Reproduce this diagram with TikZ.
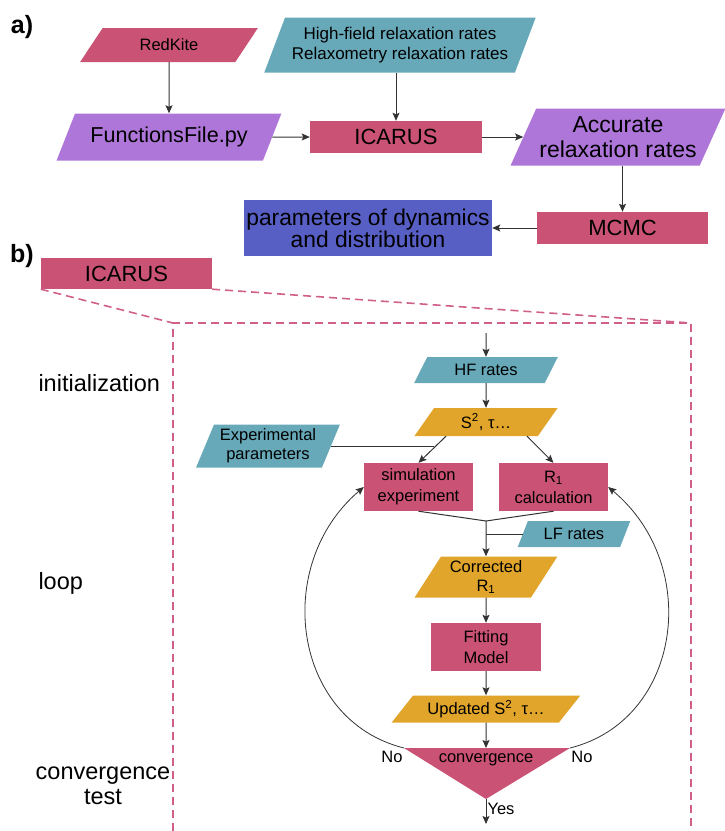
\documentclass[tikz,border=0pt]{standalone}
\usepackage{fontspec}
\setmainfont{Liberation Sans}
\usetikzlibrary{shapes.geometric,arrows.meta,calc}
\definecolor{pinkc}{HTML}{CA5275}
\definecolor{tealc}{HTML}{67A9B9}
\definecolor{purplec}{HTML}{AF76DA}
\definecolor{bluec}{HTML}{575EC4}
\definecolor{goldc}{HTML}{E1A52B}
\definecolor{dashc}{HTML}{D0608A}
\definecolor{linec}{HTML}{333333}
\begin{document}
\begin{tikzpicture}[x=1pt,y=-1pt,
  para/.style={trapezium, trapezium stretches=true, inner sep=0pt, align=center, draw=none},
  rbox/.style={rectangle, inner sep=0pt, align=center, draw=none},
  fsm/.style={font=\fontsize{16.5}{19}\selectfont},
  fbig/.style={font=\fontsize{22}{24}\selectfont},
  lab/.style={font=\fontsize{23.5}{25}\selectfont},
  arr/.style={draw=linec, line width=1pt, -{Stealth[length=8pt,width=7pt,inset=1.5pt]}},
  plain/.style={draw=linec, line width=1pt},
  dashl/.style={draw=dashc, line width=1.6pt, dash pattern=on 8pt off 5pt}
]
\useasboundingbox (0,0) rectangle (725,831);

% ---------- part a ----------
\node[font=\bfseries\fontsize{25}{25}\selectfont] (la) at (22,27) {a)};
\node[para, fill=pinkc, trapezium left angle=50.5, trapezium right angle=129.5,
      minimum width=178pt, minimum height=34pt, fsm] (redkite) at (169,45) {RedKite};
\node[para, fill=tealc, trapezium left angle=61.4, trapezium right angle=118.6,
      minimum width=272pt, minimum height=55pt, font=\fontsize{17}{20}\selectfont] (hf) at (400,45)
      {High-field relaxation rates\\Relaxometry relaxation rates};
\node[para, fill=purplec, trapezium left angle=52.5, trapezium right angle=127.5,
      minimum width=225pt, minimum height=47pt, font=\fontsize{21.6}{24}\selectfont] (ff) at (169,137)
      {FunctionsFile.py};
\node[rbox, fill=pinkc, minimum width=172pt, minimum height=32pt, fbig] (icarus) at (396,137) {ICARUS};
\node[para, fill=purplec, trapezium left angle=59, trapezium right angle=121,
      minimum width=215pt, minimum height=57pt, font=\fontsize{23}{25}\selectfont] (acc) at (618,137)
      {Accurate\\relaxation rates};
\node[rbox, fill=pinkc, minimum width=171pt, minimum height=32pt, fbig] (mcmc) at (622.5,228) {MCMC};
\node[rbox, fill=bluec, minimum width=248pt, minimum height=56pt, font=\fontsize{22.8}{20}\selectfont] (params) at (368,228)
      {parameters of dynamics\\and distribution};

\draw[arr] (redkite.south) -- (ff.north);
\draw[arr] (hf.south -| icarus.north) -- (icarus.north);
\draw[arr] (ff.east) -- (icarus.west);
\draw[arr] (icarus.east) -- (icarus.east -| acc.west);
\draw[arr] (acc.south -| mcmc.north) -- (mcmc.north);
\draw[arr] (mcmc.west) -- (params.east);

% ---------- part b ----------
\node[font=\bfseries\fontsize{25}{25}\selectfont] (lb) at (22,256) {b)};
\node[rbox, fill=pinkc, minimum width=171pt, minimum height=31pt, fbig] (icarus2) at (126.5,273.5) {ICARUS};
\coordinate (dtl) at (173,323);
\coordinate (dtr) at (691,323);
\coordinate (dbl) at (173,831);
\coordinate (dbr) at (691,831);
\draw[dashl] (icarus2.south west) -- (dtl);
\draw[dashl] (icarus2.south east) -- (dtr);
\draw[dashl] (dbl) -- (dtl) -- (dtr) -- (dbr);

\node[lab, anchor=west] (init) at (35,383) {initialization};
\node[lab, anchor=west] (loop) at (35,583) {loop};
\node[lab, align=center] (ctest) at (103,786) {convergence\\test};

\coordinate (bstart) at (486,333);
\node[para, fill=tealc, trapezium left angle=58.4, trapezium right angle=121.6,
      minimum width=144pt, minimum height=26pt, fsm] (hfr) at (486,370) {HF rates};
\node[para, fill=goldc, trapezium left angle=60, trapezium right angle=120,
      minimum width=144pt, minimum height=28pt, fsm] (s2) at (486,422) {S\textsuperscript{2}, τ…};
\node[para, fill=tealc, trapezium left angle=65, trapezium right angle=115,
      minimum width=144pt, minimum height=43pt, fsm] (exp) at (268,446) {Experimental\\parameters};
\node[rbox, fill=pinkc, minimum width=109pt, minimum height=48pt, font=\fontsize{16.5}{21}\selectfont] (sim) at (418.5,487)
      {simulation\\experiment};
\node[rbox, fill=pinkc, minimum width=109pt, minimum height=48pt, font=\fontsize{16.5}{21}\selectfont] (r1) at (553.5,487)
      {R\textsubscript{1}\\calculation};
\node[para, fill=tealc, trapezium left angle=60, trapezium right angle=120,
      minimum width=113pt, minimum height=26pt, fsm] (lf) at (574,534) {LF rates};
\node[para, fill=goldc, trapezium left angle=57.6, trapezium right angle=122.4,
      minimum width=143pt, minimum height=41pt, fsm] (corr) at (486,577) {Corrected\\R\textsubscript{1}};
\node[rbox, fill=pinkc, minimum width=110pt, minimum height=48pt, font=\fontsize{16.5}{21}\selectfont] (fit) at (486,647)
      {Fitting\\Model};
\node[para, fill=goldc, trapezium left angle=46, trapezium right angle=134,
      minimum width=189pt, minimum height=27pt, fsm] (upd) at (486,709) {Updated S\textsuperscript{2}, τ…};

\coordinate (cl) at (404,748);
\coordinate (cr) at (570,748);
\coordinate (cb) at (486,799);
\coordinate (ct) at (486,748);
\fill[pinkc] (cl) -- (cr) -- (cb) -- cycle;
\node[fsm] (conv) at (486,760) {convergence};
\node[fsm] (nol) at (392,757) {No};
\node[fsm] (nor) at (582,757) {No};
\node[fsm] (yes) at (501,809) {Yes};
\coordinate (yesend) at (486,824);

\draw[arr] (bstart) -- (hfr.north);
\draw[arr] (hfr.south) -- (s2.north);
\coordinate (s2l) at ($(s2.south)+(-40,0)$);
\coordinate (s2r) at ($(s2.south)+(41,0)$);
\draw[arr] (s2l) -- (sim.north);
\draw[arr] (s2r) -- (r1.north);
\coordinate (jp) at ($(s2l)!0.42!(sim.north)$);
\draw[plain] (exp.east) -- (exp.east -| jp);
\coordinate (merge) at (486,521);
\draw[plain] (sim.south) -- (merge);
\draw[plain] (r1.south) -- (merge);
\draw[arr] (merge) -- (corr.north);
\draw[plain] (lf.west) -- (lf.west -| merge);
\draw[arr] (corr.south) -- (fit.north);
\draw[arr] (fit.south) -- (upd.north);
\draw[arr] (upd.south) -- (ct);
\draw[arr] (cb) -- (yesend);
\draw[draw=linec, line width=0.8pt, -{Stealth[length=8pt,width=7pt,inset=1.5pt]}]
  (cl) .. controls (292,720) and (272,565) .. (sim.west);
\draw[draw=linec, line width=0.8pt, -{Stealth[length=8pt,width=7pt,inset=1.5pt]}]
  (cr) .. controls (682,720) and (702,565) .. (r1.east);
\end{tikzpicture}
\end{document}
